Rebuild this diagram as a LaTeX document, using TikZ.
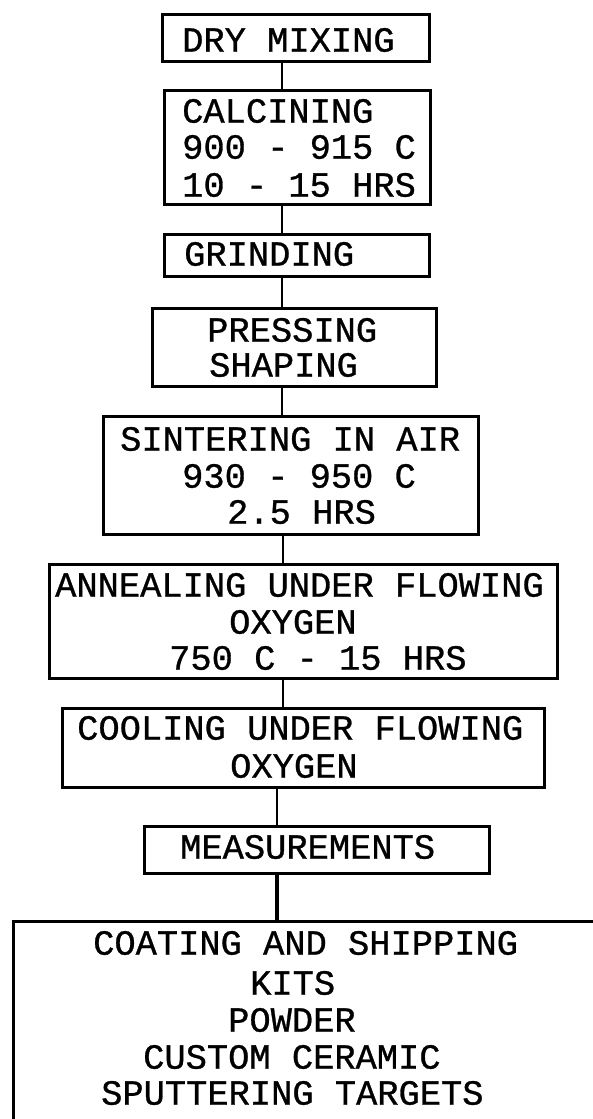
\documentclass[tikz,border=0pt]{standalone}
\usepackage{fontspec}
\newfontfamily\plotfont[FakeBold=0.8]{Liberation Mono}
\begin{document}
\begin{tikzpicture}[x=1pt,y=-1pt,
  box/.style={draw, line width=2.5pt, rectangle, inner sep=0pt, anchor=north west},
  lbl/.style={font=\plotfont\fontsize{35.4}{35}\selectfont, inner sep=0pt, anchor=west},
  link/.style={line width=2.4pt},
  thicklink/.style={line width=4pt}]
\useasboundingbox (0,0) rectangle (593,1119);
\clip (0,0) rectangle (593,1119);
% boxes
\node[box, minimum width=267pt, minimum height=47pt]  (dry)    at (161,13)  {};
\node[box, minimum width=266pt, minimum height=114pt] (calc)   at (163,89)  {};
\node[box, minimum width=265pt, minimum height=42pt]  (grind)  at (163,233) {};
\node[box, minimum width=284pt, minimum height=78pt]  (press)  at (151,307) {};
\node[box, minimum width=375pt, minimum height=118pt] (sinter) at (102,415) {};
\node[box, minimum width=508pt, minimum height=114pt] (anneal) at (48,563)  {};
\node[box, minimum width=482pt, minimum height=79pt]  (cool)   at (61,707)  {};
\node[box, minimum width=345pt, minimum height=47pt]  (meas)   at (143,825) {};
\node[box, minimum width=640pt, minimum height=260pt] (coat)   at (12,920)  {};
% texts
\node[lbl] (t1)  at (182,40)   {DRY MIXING};
\node[lbl] (t2)  at (182,111)  {CALCINING};
\node[lbl] (t3)  at (182,147)  {900 - 915 C};
\node[lbl] (t4)  at (182,185)  {10 - 15 HRS};
\node[lbl] (t5)  at (184,254)  {GRINDING};
\node[lbl] (t6)  at (207,330)  {PRESSING};
\node[lbl] (t7)  at (209,365)  {SHAPING};
\node[lbl] (t8)  at (120,439)  {SINTERING IN AIR};
\node[lbl] (t9)  at (182,476)  {930 - 950 C};
\node[lbl] (t10) at (227,512)  {2.5 HRS};
\node[lbl] (t11) at (55,585)   {ANNEALING UNDER FLOWING};
\node[lbl] (t12) at (229,622)  {OXYGEN};
\node[lbl] (t13) at (169,658)  {750 C - 15 HRS};
\node[lbl] (t14) at (77,728)   {COOLING UNDER FLOWING};
\node[lbl] (t15) at (230,766)  {OXYGEN};
\node[lbl] (t16) at (180,847)  {MEASUREMENTS};
\node[lbl] (t17) at (93,943)   {COATING AND SHIPPING};
\node[lbl] (t18) at (250,983)  {KITS};
\node[lbl] (t19) at (228,1020) {POWDER};
\node[lbl] (t20) at (143,1057) {CUSTOM CERAMIC};
\node[lbl] (t21) at (101,1093) {SPUTTERING TARGETS};
% connector lines
\coordinate (xa) at (282,0);
\coordinate (xb) at (283,0);
\coordinate (xc) at (277,0);
\draw[link] (dry.south -| xa) -- (calc.north -| xa);
\draw[link] (calc.south -| xa) -- (grind.north -| xa);
\draw[link] (grind.south -| xa) -- (press.north -| xa);
\draw[link] (press.south -| xa) -- (sinter.north -| xa);
\draw[link] (sinter.south -| xb) -- (anneal.north -| xb);
\draw[link] (anneal.south -| xb) -- (cool.north -| xb);
\draw[link] (cool.south -| xc) -- (meas.north -| xc);
\draw[thicklink] (meas.south -| xc) -- (coat.north -| xc);
\end{tikzpicture}
\end{document}
